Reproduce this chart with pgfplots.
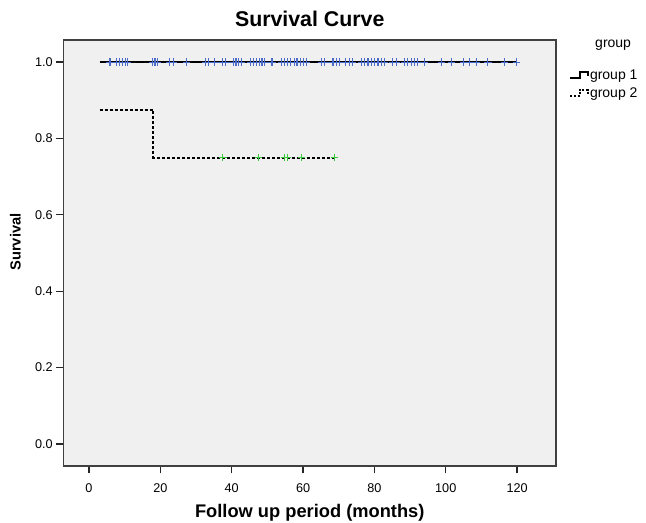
\documentclass[border=0pt]{standalone}
\usepackage{pgfplots}
\pgfplotsset{compat=1.18}
\usepackage{fontspec}
\setmainfont{Liberation Sans}
\definecolor{bgray}{HTML}{F0F0F0}
\definecolor{cblue}{HTML}{4A6CC8}
\definecolor{cgreen}{HTML}{3CC83C}
\begin{document}
\begin{tikzpicture}
\path[use as bounding box] (-47.6pt,-42pt) rectangle (436.9pt,349.5pt);
\begin{axis}[
  scale only axis,
  width=369.4pt, height=319.5pt,
  anchor=south west, at={(0,0)},
  clip=false,
  xmin=-7.15, xmax=130.9,
  ymin=-0.058, ymax=1.058,
  axis background/.style={fill=bgray},
  axis line style={draw=black!75, line width=1.1pt},
  xtick={0,20,40,60,80,100,120},
  ytick={0,0.2,0.4,0.6,0.8,1.0},
  yticklabel style={xshift=1pt, /pgf/number format/.cd,fixed,fixed zerofill,precision=1},
  /pgf/number format/assume math mode=true,
  tick align=outside,
  major tick length=5.5pt,
  tick style={draw=black!85, line width=1pt},
  xtick pos=bottom, ytick pos=left,
  tick label style={font=\fontsize{9.5pt}{11pt}\selectfont},
  xticklabel style={yshift=-4pt},
  title={\bfseries Survival Curve},
  title style={font=\fontsize{16pt}{18pt}\selectfont, yshift=0.5pt},
  xlabel={\bfseries Follow up period (months)},
  ylabel={\bfseries Survival},
  xlabel style={font=\fontsize{13.7pt}{16pt}\selectfont, yshift=-1.75pt},
  ylabel style={font=\fontsize{11pt}{13pt}\selectfont, at={(ticklabel cs:0.526)}, yshift=4pt},
  legend style={at={(1.0,1.0)}, anchor=north west, xshift=9pt, yshift=-19pt,
    draw=none, fill=none,
    font=\fontsize{10.5pt}{12pt}\selectfont, row sep=0.5pt, inner sep=1pt,
    nodes={inner xsep=1pt}},
  legend cell align=left,
]
\addplot[black, line width=1.5pt, const plot, legend image code/.code={
  \draw[black, line width=1.3pt] (0pt,-2pt) -- (7pt,-2pt) -- (7pt,2.5pt) -- (13pt,2.5pt) -- (13pt,-0.5pt);}]
  coordinates {(3,1.0) (120,1.0)};
\addlegendentry{group 1}
\addplot[black, line width=1.5pt, dash pattern=on 2.25pt off 1.5pt, const plot, legend image code/.code={
  \draw[black, line width=1.3pt, dash pattern=on 1.5pt off 1.2pt] (0pt,-2pt) -- (7pt,-2pt) -- (7pt,2.5pt) -- (13pt,2.5pt) -- (13pt,-0.5pt);}]
  coordinates {(3,0.875) (18,0.75) (69,0.75)};
\addlegendentry{group 2}
\addplot[only marks, mark=+, mark size=2.8pt, cblue, line width=0.8pt, forget plot] coordinates {
(5.9,1)(7.7,1)(8.5,1)(9.3,1)(10.2,1)(10.8,1)
(17.8,1)(18.5,1)(19.2,1)(22.7,1)(23.6,1)(27.4,1)
(32.7,1)(33.4,1)(35.3,1)(37.4,1)(38.3,1)
(40.4,1)(41.2,1)(42.0,1)(42.8,1)
(45.4,1)(46.0,1)(47.0,1)(47.7,1)(48.5,1)(49.3,1)
(51.3,1)(53.9,1)(54.7,1)(55.6,1)(56.6,1)(57.5,1)(58.3,1)(59.3,1)(60.2,1)(61.0,1)
(65.2,1)(66.1,1)(68.4,1)(69.4,1)(70.3,1)(72.0,1)(72.9,1)(73.9,1)
(76.4,1)(77.3,1)(78.2,1)(79.2,1)(80.1,1)(81.0,1)(82.0,1)(82.9,1)
(85.2,1)(86.2,1)(88.5,1)(89.4,1)(90.4,1)(91.3,1)(92.2,1)(94.1,1)
(98.8,1)(101.6,1)(104.9,1)(106.7,1)(108.6,1)(111.8,1)(116.5,1)(119.8,1)
};
\addplot[only marks, mark=+, mark size=2.8pt, cgreen, line width=0.8pt, forget plot] coordinates {
(37.5,0.75)(47.5,0.75)(54.8,0.75)(55.6,0.75)(59.6,0.75)(68.8,0.75)
};
\node[font=\fontsize{10.5pt}{12pt}\selectfont] at (rel axis cs:1.116,0.987) {group};
\end{axis}
\end{tikzpicture}
\end{document}
